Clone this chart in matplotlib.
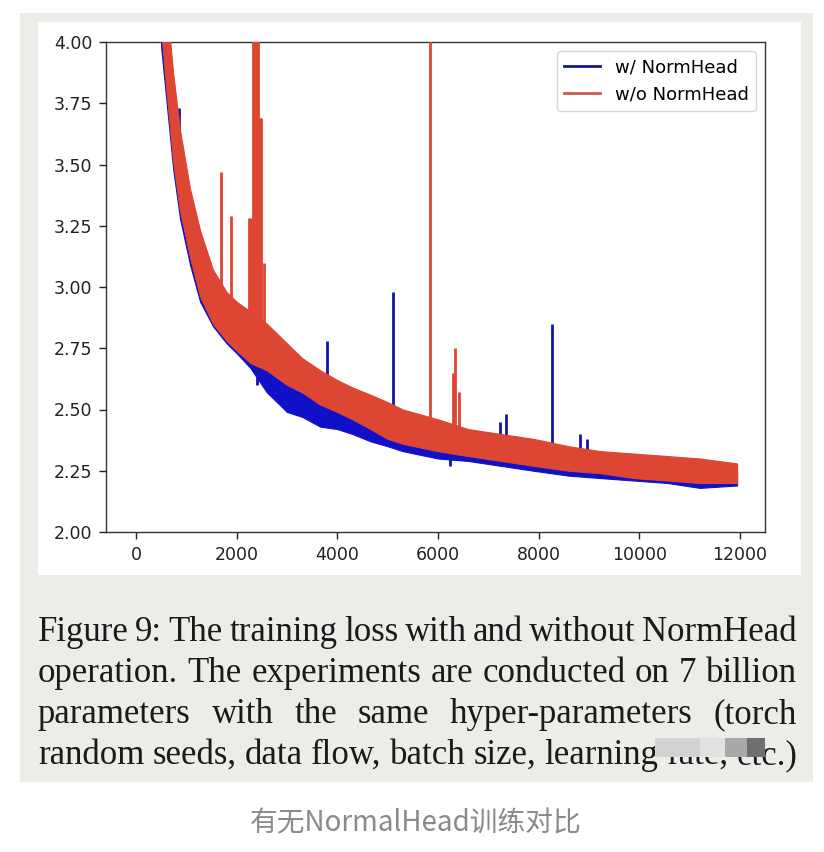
import numpy as np
import matplotlib
matplotlib.use("Agg")
import matplotlib.pyplot as plt
from matplotlib.patches import Rectangle
from matplotlib.lines import Line2D

# === Data ===
steps = [500, 615, 740, 875, 1075, 1275, 1530, 1800, 2000, 2270, 2600, 3000, 3300, 3660,
         4000, 4300, 4660, 5000, 5300, 6000, 6600, 7250, 7900, 8600, 9230, 9900, 10560,
         11200, 11940]

# w/o NormHead: lower / upper edge of the noisy band
red_lo = [4.05, 3.78, 3.51, 3.31, 3.12, 2.96, 2.85, 2.78, 2.74, 2.69, 2.66, 2.60, 2.57, 2.52,
          2.49, 2.46, 2.42, 2.38, 2.36, 2.33, 2.31, 2.29, 2.27, 2.25, 2.24, 2.22, 2.21, 2.20, 2.20]
red_hi = [4.50, 4.15, 3.87, 3.64, 3.40, 3.23, 3.07, 2.98, 2.94, 2.90, 2.85, 2.77, 2.71, 2.66,
          2.62, 2.59, 2.56, 2.53, 2.50, 2.46, 2.42, 2.40, 2.38, 2.35, 2.33, 2.32, 2.31, 2.30, 2.28]

# w/ NormHead
blue_lo = [3.98, 3.74, 3.48, 3.28, 3.09, 2.94, 2.84, 2.77, 2.73, 2.67, 2.57, 2.49, 2.47, 2.43,
           2.42, 2.40, 2.37, 2.35, 2.33, 2.30, 2.29, 2.27, 2.25, 2.23, 2.22, 2.21, 2.20, 2.18, 2.19]
blue_hi = [4.40, 4.05, 3.78, 3.56, 3.33, 3.16, 3.00, 2.90, 2.84, 2.77, 2.76, 2.64, 2.60, 2.56,
           2.52, 2.50, 2.47, 2.44, 2.42, 2.39, 2.37, 2.35, 2.33, 2.31, 2.29, 2.28, 2.27, 2.26, 2.25]

# loss spikes: step, base, peak
red_spike_steps = [1680, 1890, 2250, 2280, 2320, 2350, 2390, 2420, 2460, 2490, 2540, 5850, 6300, 6330, 6410]
red_spike_base = [2.95, 2.95, 2.85, 2.85, 2.85, 2.85, 2.85, 2.85, 2.84, 2.84, 2.83, 2.40, 2.38, 2.38, 2.38]
red_spike_peak = [3.47, 3.29, 3.28, 3.28, 4.50, 4.50, 4.50, 4.50, 3.69, 3.69, 3.10, 4.80, 2.65, 2.75, 2.57]

blue_spike_steps = [855, 2410, 3800, 5100, 6230, 7240, 7360, 8260, 8830, 8950]
blue_spike_base = [3.50, 2.60, 2.55, 2.45, 2.32, 2.35, 2.35, 2.35, 2.30, 2.30]
blue_spike_peak = [3.73, 2.88, 2.78, 2.98, 2.27, 2.45, 2.48, 2.85, 2.40, 2.38]

x_ticks = [0, 2000, 4000, 6000, 8000, 10000, 12000]
y_ticks = [2.00, 2.25, 2.50, 2.75, 3.00, 3.25, 3.50, 3.75, 4.00]

caption = ["Figure 9: The training loss with and without NormHead",
           "operation. The experiments are conducted on 7 billion",
           "parameters with the same hyper-parameters (torch",
           "random seeds, data flow, batch size, learning rate, etc.)"]
footer = "有无NormalHead训练对比"

RED = "#dc4632"
BLUE = "#1010c8"
W, H = 824, 852

fig = plt.figure(figsize=(W / 100, H / 100), dpi=100)
fig.patch.set_facecolor("white")


def px_rect(x0, y0, x1, y1, color, z=0):
    fig.add_artist(Rectangle((x0 / W, 1 - y1 / H), (x1 - x0) / W, (y1 - y0) / H,
                             transform=fig.transFigure, facecolor=color,
                             edgecolor="none", zorder=z))


# === Screenshot panels ===
px_rect(20, 13, 813, 782, "#ebede9")
px_rect(38, 22, 801, 575, "white")

# === Chart ===
ax = fig.add_axes([106 / W, 1 - 532 / H, (765 - 106) / W, (532 - 42) / H])
ax.set_facecolor("white")

ax.fill_between(steps, blue_lo, blue_hi, color=BLUE, lw=0.8, zorder=2)
ax.vlines(blue_spike_steps, blue_spike_base, blue_spike_peak, color="#1414a8", lw=2.0, zorder=2)
ax.fill_between(steps, red_lo, red_hi, color=RED, lw=0.8, zorder=3)
ax.vlines(red_spike_steps, red_spike_base, red_spike_peak, color=RED, lw=2.0, zorder=3)

ax.set_xlim(-595, 12495)
ax.set_ylim(2.0, 4.0)
ax.set_xticks(x_ticks)
ax.set_yticks(y_ticks)
ax.set_yticklabels([f"{v:.2f}" for v in y_ticks])
ax.tick_params(labelsize=12.5, length=5, width=1, pad=5, colors="#222222")
for s in ax.spines.values():
    s.set_linewidth(1.0)
    s.set_color("#333333")

handles = [Line2D([], [], color="#161690", lw=2),
           Line2D([], [], color="#c95a4c", lw=2)]
ax.legend(handles, ["w/ NormHead", "w/o NormHead"], loc="upper right", fontsize=13)

# === Caption (justified) ===
renderer = fig.canvas.get_renderer()
left, right = 38, 797
baselines = [641, 682, 723, 764]
for line, base in zip(caption, baselines):
    words = line.split(" ")
    texts = [fig.text(0, 0, w, fontsize=25, family="Liberation Serif", color="#1a1a1a",
                      va="baseline") for w in words]
    widths = [t.get_window_extent(renderer).width for t in texts]
    gap = (right - left - sum(widths)) / (len(words) - 1)
    x = left
    for t, wd in zip(texts, widths):
        t.set_position((x / W, 1 - base / H))
        x += wd + gap

# watermark blur over "rate, etc."
px_rect(655, 738, 700, 757, "#d2d2d2", z=5)
px_rect(700, 738, 725, 757, "#e2e2e2", z=5)
px_rect(725, 738, 747, 757, "#a9a9a9", z=5)
px_rect(747, 738, 765, 757, "#6f6f6f", z=5)

fig.text(416 / W, 1 - 823 / H, footer, fontsize=20, color="#8a8a8a", ha="center", va="center",
         family=["Noto Sans CJK SC", "DejaVu Sans"])

fig.savefig("out.png", dpi=100)
